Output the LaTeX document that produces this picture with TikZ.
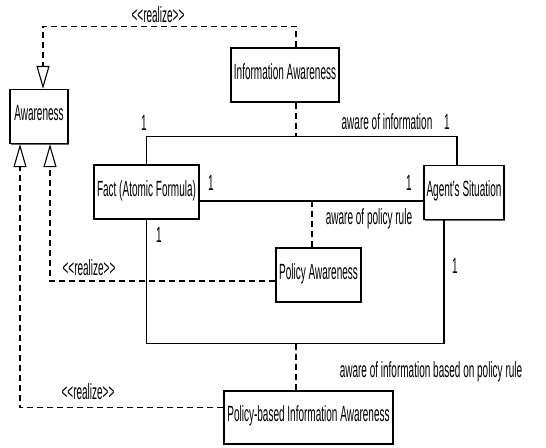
\documentclass[tikz,border=0pt]{standalone}
\usepackage{fontspec}
\setmainfont[FakeStretch=0.455]{Liberation Sans}
\usetikzlibrary{arrows.meta,shadows}
\newcommand\stereo[1]{<\kern0pt<#1>\kern0pt>}

\begin{document}
\begin{tikzpicture}[x=1pt, y=-1pt, font=\fontsize{22pt}{25pt}\selectfont,
    uml_class/.style={draw, line width=1.2pt, fill=white, minimum height=54pt, text height=16pt, text depth=8pt, inner sep=0pt,
        drop shadow={shadow xshift=1.2pt, shadow yshift=-1.2pt, fill=black!60, opacity=1}},
    assoc/.style={line width=1.1pt},
    depends/.style={line width=1.1pt, dash pattern=on 6pt off 4pt},
    realize/.style={depends, -{Triangle[open, length=23pt, width=13pt, line width=1.1pt]}},
    lbl/.style={inner sep=0pt, text height=16pt, text depth=0pt}]
    \fill[white] (0,0) rectangle (546,447);
    \useasboundingbox (0,0) rectangle (546,447);

    \node [uml_class, minimum width=58pt] (awareness) at (39,116.5) {Awareness};
    \node [uml_class, minimum width=108pt] (info_awareness) at (285,75) {Information Awareness};
    \node [uml_class, minimum width=105pt] (fact) at (146.5,192) {Fact (Atomic Formula)};
    \node [uml_class, minimum width=80pt] (agent_situation) at (464,192.5) {Agent's Situation};
    \node [uml_class, minimum width=85pt] (policy_awareness) at (318.5,275) {Policy Awareness};
    \node [uml_class, minimum width=169pt, minimum height=53pt] (policy_info_awareness) at (308.5,417.5) {Policy-based Information Awareness};

    % associations between fact and agent's situation
    \draw[assoc] (fact.north) -- ++(0,-28) coordinate (info_link) -| ([xshift=-7pt]agent_situation.north);
    \draw[assoc] ([yshift=-9pt]fact.east) coordinate (rule_link) -- (rule_link -| agent_situation.west);
    \draw[assoc] (fact.south) -- ++(0,124) coordinate (based_link) -| ([xshift=-20pt]agent_situation.south);

    % association classes
    \draw[depends] ([xshift=11pt]info_awareness.south) -- ([xshift=11pt]info_awareness.south |- info_link);
    \draw[depends] ([xshift=-6.5pt]policy_awareness.north) -- ([xshift=-6.5pt]policy_awareness.north |- rule_link);
    \draw[depends] ([xshift=-12.5pt]policy_info_awareness.north) -- ([xshift=-12.5pt]policy_info_awareness.north |- based_link);

    % realizations of awareness
    \draw[realize] ([xshift=11pt]info_awareness.north) -- ++(0,-21) -| ([xshift=4pt]awareness.north);
    \draw[realize] ([yshift=-6pt]policy_awareness.west) -| ([xshift=11pt]awareness.south);
    \draw[realize] ([yshift=10pt]policy_info_awareness.west) -| ([xshift=-19pt]awareness.south);

    \node [lbl] (realize_top) at (158,14) {\stereo{realize}};
    \node [lbl] (realize_mid) at (89,267) {\stereo{realize}};
    \node [lbl] (realize_bottom) at (88,391) {\stereo{realize}};

    \node [lbl] (aware_info) at (387,121) {aware of information};
    \node [lbl] (aware_rule) at (369,216) {aware of policy rule};
    \node [lbl] (aware_based) at (431,369) {aware of information based on policy rule};

    \node [lbl] (one_fact_info) at (144,122) {1};
    \node [lbl] (one_agent_info) at (447,121) {1};
    \node [lbl] (one_fact_rule) at (211,182) {1};
    \node [lbl] (one_agent_rule) at (409,182) {1};
    \node [lbl] (one_fact_based) at (159,234) {1};
    \node [lbl] (one_agent_based) at (455,265) {1};
\end{tikzpicture}
\end{document}
